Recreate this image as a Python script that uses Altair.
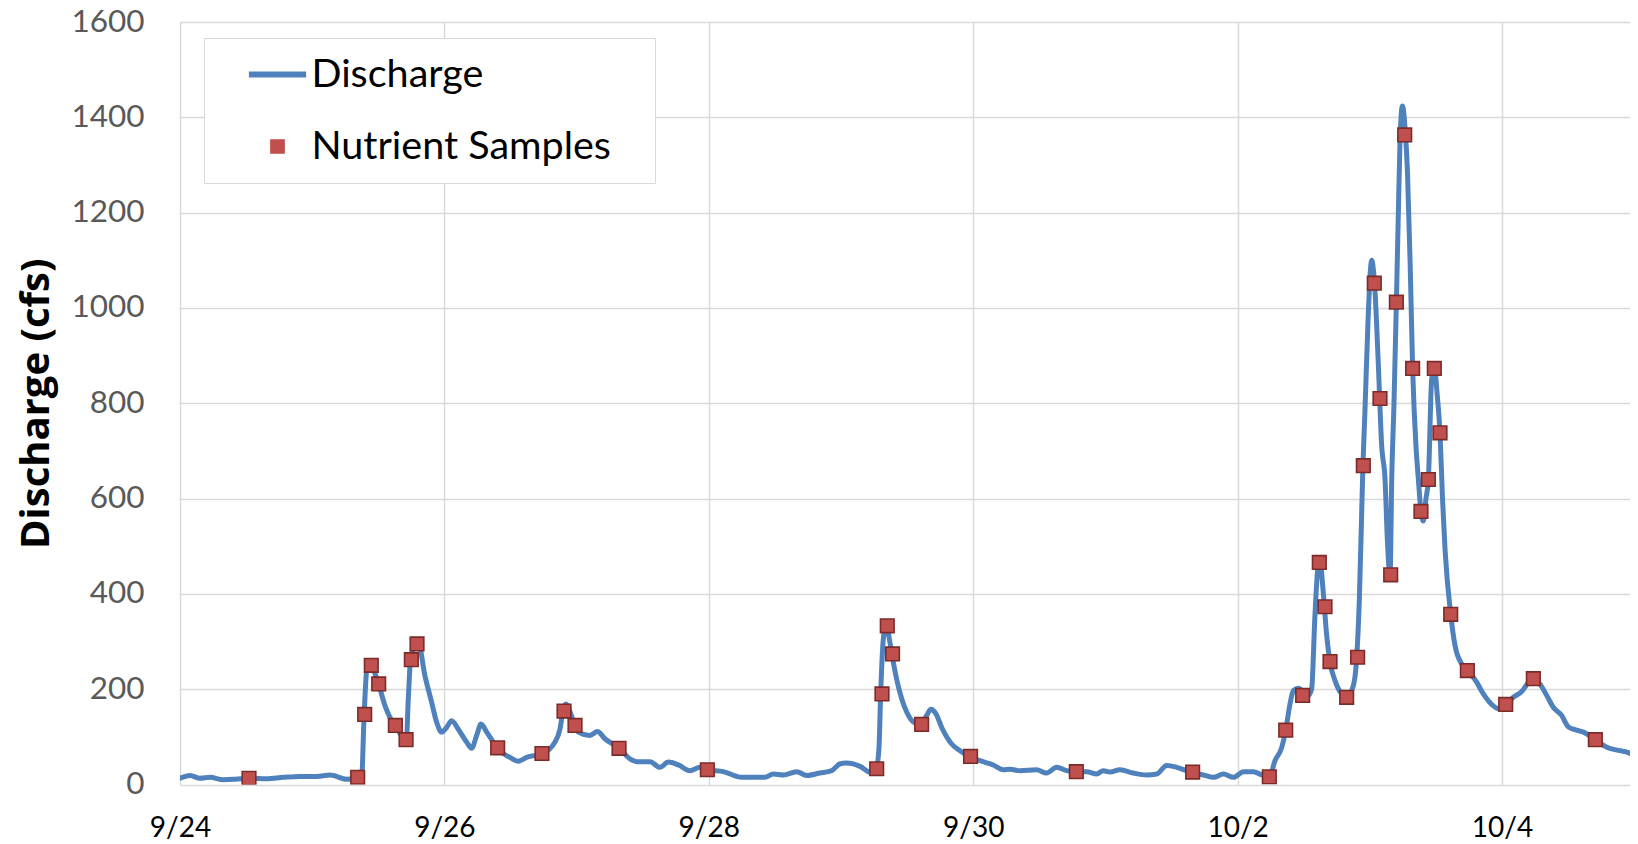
import altair as alt
import pandas as pd

series_names = ["Discharge", "Nutrient Samples"]
tick_days = [0, 2, 4, 6, 8, 10]
tick_labels = ["9/24", "9/26", "9/28", "9/30", "10/2", "10/4"]
y_ticks = [0, 200, 400, 600, 800, 1000, 1200, 1400, 1600]

# discharge record, days after 9/24 00:00 and cfs
flow_day = [0.00, 0.076, 0.151, 0.227, 0.328, 0.42, 0.522, 0.655, 0.782, 0.908,
            1.034, 1.135, 1.261, 1.344, 1.374, 1.392, 1.412, 1.425, 1.45, 1.503,
            1.551, 1.588, 1.629, 1.694, 1.712, 1.727, 1.745, 1.775, 1.80, 1.853,
            1.904, 1.942, 1.979, 2.017, 2.055, 2.105, 2.168, 2.206, 2.244, 2.277,
            2.32, 2.37, 2.403, 2.42, 2.496, 2.559, 2.622, 2.738, 2.836, 2.874,
            2.899, 2.919, 2.962, 2.988, 3.012, 3.1, 3.158, 3.214, 3.321, 3.403,
            3.454, 3.555, 3.63, 3.694, 3.77, 3.858, 3.933, 3.989, 4.11, 4.248,
            4.425, 4.488, 4.564, 4.664, 4.74, 4.84, 4.93, 4.99, 5.04, 5.144,
            5.22, 5.265, 5.287, 5.30, 5.32, 5.345, 5.366, 5.396, 5.421, 5.459,
            5.497, 5.547, 5.597, 5.648, 5.68, 5.719, 5.761, 5.837, 5.9, 5.971,
            6.051, 6.152, 6.228, 6.278, 6.354, 6.479, 6.555, 6.632, 6.707, 6.773,
            6.858, 6.934, 6.984, 7.035, 7.11, 7.211, 7.312, 7.388, 7.464, 7.54,
            7.645, 7.741, 7.817, 7.893, 7.969, 8.045, 8.12, 8.183, 8.24, 8.283,
            8.334, 8.364, 8.397, 8.422, 8.46, 8.535, 8.56, 8.585, 8.606, 8.62,
            8.648, 8.674, 8.699, 8.737, 8.787, 8.825, 8.876, 8.9, 8.921, 8.938,
            8.948, 8.963, 8.989, 9.014, 9.04, 9.064, 9.09, 9.115, 9.135, 9.153,
            9.166, 9.183, 9.201, 9.216, 9.229, 9.247, 9.267, 9.285, 9.305, 9.324,
            9.349, 9.367, 9.387, 9.405, 9.425, 9.443, 9.468, 9.488, 9.511, 9.531,
            9.55, 9.569, 9.612, 9.645, 9.695, 9.738, 9.808, 9.859, 9.934, 9.985,
            10.028, 10.086, 10.149, 10.2, 10.237, 10.287, 10.338, 10.388, 10.451, 10.502,
            10.565, 10.616, 10.706, 10.792, 10.893, 10.956, 11.019]
flow_cfs = [13, 19, 13, 15, 10, 11, 13, 12, 15, 17,
            17, 20, 11, 14, 15, 140, 240, 253, 248, 210,
            165, 141, 123, 96, 93, 180, 265, 290, 300, 228,
            172, 130, 110, 120, 134, 116, 89, 76, 103, 127,
            110, 89, 77, 71, 57, 49, 57, 64, 89, 116,
            158, 169, 144, 124, 110, 103, 111, 96, 76, 54,
            48, 48, 36, 47, 41, 29, 36, 31, 27, 15,
            15, 22, 20, 27, 19, 24, 29, 43, 45, 38,
            26, 33, 75, 190, 305, 338, 305, 256, 221, 180,
            152, 131, 126, 145, 158, 148, 120, 85, 71, 59,
            50, 41, 31, 32, 29, 31, 24, 36, 29, 27,
            27, 22, 29, 26, 31, 24, 20, 22, 40, 36,
            26, 20, 15, 22, 15, 27, 27, 20, 16, 50,
            78, 114, 170, 197, 202, 187, 200, 354, 452, 475,
            403, 312, 257, 218, 190, 183, 208, 263, 389, 564,
            669, 781, 991, 1100, 1032, 885, 710, 642, 500, 435,
            642, 800, 1012, 1200, 1355, 1424, 1376, 1285, 1096, 873,
            711, 642, 573, 553, 600, 640, 851, 875, 814, 738,
            600, 494, 357, 291, 253, 239, 215, 190, 165, 158,
            168, 183, 195, 214, 222, 211, 187, 162, 145, 121,
            114, 110, 94, 78, 71, 67, 57]

# nutrient sample times and discharge at sampling
sample_day = [0.522, 1.344, 1.397, 1.447, 1.503, 1.629, 1.71, 1.75, 1.793, 2.403,
              2.738, 2.905, 2.988, 3.321, 3.989, 5.27, 5.31, 5.35, 5.39, 5.61,
              5.98, 6.78, 7.66, 8.24, 8.364, 8.492, 8.618, 8.661, 8.699, 8.825,
              8.908, 8.951, 9.034, 9.077, 9.158, 9.201, 9.264, 9.324, 9.387, 9.443,
              9.488, 9.531, 9.612, 9.738, 10.028, 10.237, 10.706]
sample_cfs = [13, 15, 147, 250, 211, 124, 94, 262, 295, 77,
              65, 154, 124, 76, 31, 33, 190, 333, 274, 126,
              59, 27, 26, 16, 114, 187, 466, 373, 258, 183,
              267, 669, 1052, 810, 440, 1012, 1363, 873, 573, 640,
              873, 738, 357, 239, 168, 222, 94]

flow = pd.DataFrame({"day": flow_day, "cfs": flow_cfs, "series": series_names[0]})
samples = pd.DataFrame({"day": sample_day, "cfs": sample_cfs, "series": series_names[1]})

FONT = "Lato"
BLUE = "#4f81bd"
RED = "#c0504d"
DARKRED = "#7b2c2a"
X_MAX = 1450 / 132.2

labels_js = "[" + ",".join("'%s'" % t for t in tick_labels) + "]"
days_js = "[" + ",".join(str(d) for d in tick_days) + "]"
x_label_expr = "%s[indexof(%s, datum.value)]" % (labels_js, days_js)

is_line = "datum.value === '%s'" % series_names[0]
LINE_PATH = "M-1,-0.085H1V0.085H-1Z"
SQUARE_PATH = "M-0.237,-0.237H0.237V0.237H-0.237Z M0,0.9"

legend = alt.Legend(
    title=".", titleOrient="right", titleOpacity=0, titleFontSize=2, titlePadding=35.5,
    orient="none", legendX=24, legendY=16, direction="vertical",
    padding=7.5, rowPadding=23, symbolOffset=37, labelOffset=5,
    labelFont=FONT, labelFontSize=39.5, labelColor="black", labelLimit=1000,
    symbolSize=3100, symbolStrokeWidth=1.5, symbolOpacity=1,
    symbolType={"expr": "%s ? '%s' : '%s'" % (is_line, LINE_PATH, SQUARE_PATH)},
    symbolFillColor={"expr": "%s ? '%s' : '%s'" % (is_line, BLUE, RED)},
    symbolStrokeColor={"expr": "%s ? '%s' : '%s'" % (is_line, BLUE, DARKRED)},
    fillColor="white", strokeColor="#d9d9d9",
)

color = alt.Color("series:N",
                  scale=alt.Scale(domain=series_names, range=[BLUE, RED]),
                  legend=legend)

x = alt.X("day:Q",
          scale=alt.Scale(domain=[0, X_MAX], nice=False, zero=False),
          axis=alt.Axis(values=tick_days, labelExpr=x_label_expr, title=None,
                        grid=True, domain=False, ticks=False, tickSize=0,
                        labelPadding=52, labelBaseline="alphabetic",
                        labelFont=FONT, labelFontSize=28, labelColor="black",
                        labelFlush=False))
y = alt.Y("cfs:Q",
          scale=alt.Scale(domain=[0, 1600], nice=False),
          axis=alt.Axis(values=y_ticks, format="d", title="Discharge (cfs)",
                        titleFont="Open Sans", titleFontSize=40, titleFontWeight="bold",
                        titleColor="black", titleX=-132, titleY=381.25,
                        titleBaseline="alphabetic", titleAngle=270, titleAlign="center",
                        labelPadding=36, labelFont=FONT, labelFontSize=31.5,
                        labelColor="#595959", domain=False, ticks=False, tickSize=0,
                        grid=True))

line = alt.Chart(flow).mark_line(
    strokeWidth=5, interpolate="monotone", clip=True,
    strokeCap="round", strokeJoin="round"
).encode(x=x, y=y, color=color)

points = alt.Chart(samples).mark_point(
    shape="square", filled=True, size=185, stroke=DARKRED, strokeWidth=1.6,
    opacity=1, clip=True
).encode(x=x, y=y, color=color)

chart = alt.layer(line, points).properties(
    width=1450, height=762.5,
    padding={"left": 172, "top": 14, "right": 0, "bottom": 58},
    autosize=alt.AutoSizeParams(type="none"),
    background="white",
).configure_view(stroke=None).configure_axis(
    gridColor="#d9d9d9", gridWidth=1.5
)

chart.save("out.html", embed_options={"renderer": "svg", "actions": False})
